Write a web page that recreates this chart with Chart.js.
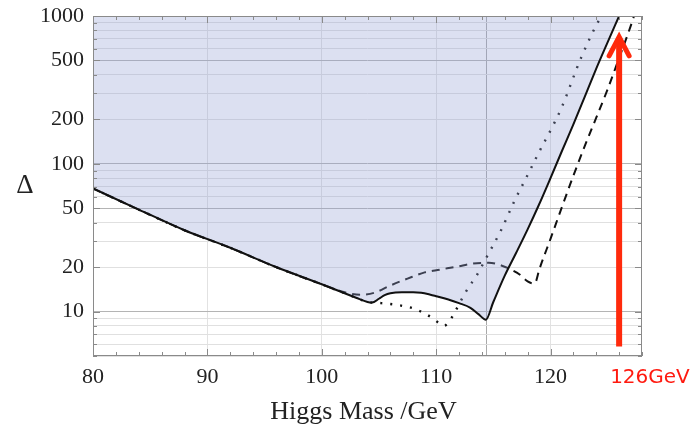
<!DOCTYPE html>
<html><head><meta charset="utf-8">
<script src="https://cdn.jsdelivr.net/npm/chart.js@4/dist/chart.umd.min.js"></script>
<style>html,body{margin:0;padding:0;background:#fff}</style>
</head><body>
<canvas id="c" width="693" height="428"></canvas>
<script>
// ---- data ----
const massSolid  = [80, 84, 88, 92, 96, 100, 102, 103, 104, 104.4, 105, 105.5, 106, 107, 108, 108.7, 109.5, 110, 111, 112, 113, 113.7, 114.35, 115, 116, 117, 118, 119, 120, 121, 122, 123, 124, 125, 126];
const deltaSolid = [68, 49, 35.5, 27, 20, 15.3, 13.3, 12.4, 11.6, 11.5, 12.2, 12.9, 13.3, 13.5, 13.5, 13.4, 13.0, 12.7, 12.1, 11.4, 10.6, 9.6, 8.8, 11.6, 17.5, 25, 36, 53, 80, 122, 185, 285, 440, 665, 1000];

const massDashed  = [80, 84, 88, 92, 96, 100, 102, 103.4, 104.6, 106, 107.5, 109, 110.3, 111.8, 113.2, 114.6, 115.7, 116.5, 117.3, 118, 118.5, 118.7, 119, 120, 121, 122, 123, 124, 125, 126, 127, 127.3];
const deltaDashed = [68, 49, 35.5, 27, 20, 15.3, 13.5, 13.0, 13.4, 15.0, 16.7, 18.4, 19.2, 20.1, 21.1, 21.4, 20.5, 19.3, 17.8, 16.0, 15.5, 15.8, 19, 31, 51, 83, 132, 205, 320, 520, 850, 1000];

const massDotted  = [80, 84, 88, 92, 96, 100, 102, 103, 104, 104.4, 105.2, 106.2, 107.1, 108, 108.9, 109.7, 110.3, 110.7, 111.1, 111.6, 112.5, 113, 113.5, 114.4, 115.7, 116.8, 118.1, 119, 120.2, 121, 122.7, 124.3, 124.5];
const deltaDotted = [68, 49, 35.5, 27, 20, 15.3, 13.3, 12.4, 11.6, 11.5, 11.4, 11.2, 10.9, 10.5, 9.8, 9.0, 8.3, 8.0, 8.5, 9.8, 13.2, 15.2, 17.3, 23.2, 35.8, 55, 87, 120, 180, 243, 527, 953, 1000];

const xTickValues = [80, 82, 84, 86, 88, 90, 92, 94, 96, 98, 100, 102, 104, 106, 108, 110, 112, 114, 116, 118, 120, 122, 124, 126, 128];
const xTickLabels = [80, 90, 100, 110, 120];
const lepBound = [114.4];
const yTickValues = [5, 6, 7, 8, 9, 10, 20, 30, 40, 50, 60, 70, 80, 90, 100, 200, 300, 400, 500, 600, 700, 800, 900, 1000];
const yTickLabels = [10, 20, 50, 100, 200, 500, 1000];
const yStrongGrid = [10, 50, 100, 500, 1000];

const arrowMass = [126];
const arrowRange = [5.8, 745];
const arrowText = '126GeV';
const xTitle = 'Higgs Mass /GeV';
const yTitle = 'Δ';

const toPts = (xs, ys) => xs.map((x, i) => ({x, y: ys[i]}));

const framePlugin = {
  id: 'frame',
  afterDatasetsDraw(chart) {
    const {ctx, chartArea: a, scales: {x, y}} = chart;
    ctx.save();
    ctx.strokeStyle = '#8a8a8a';
    ctx.lineWidth = 1;
    ctx.strokeRect(a.left + 0.5, a.top + 0.5, a.right - a.left - 1, a.bottom - a.top - 1);
    ctx.beginPath();
    xTickValues.forEach(v => {
      const px = Math.round(x.getPixelForValue(v)) + 0.5;
      const L = (v % 10 === 0) ? 7 : 4;
      ctx.moveTo(px, a.bottom); ctx.lineTo(px, a.bottom - L);
      ctx.moveTo(px, a.top); ctx.lineTo(px, a.top + L);
    });
    yTickValues.forEach(v => {
      const py = Math.round(y.getPixelForValue(v)) + 0.5;
      const L = yTickLabels.includes(v) ? 7 : 4;
      ctx.moveTo(a.left, py); ctx.lineTo(a.left + L, py);
      ctx.moveTo(a.right, py); ctx.lineTo(a.right - L, py);
    });
    ctx.stroke();
    ctx.restore();
  },
  afterDraw(chart) {
    const {ctx, chartArea: a, scales: {x, y}} = chart;
    ctx.save();
    // arrow
    const ax = x.getPixelForValue(arrowMass[0]);
    const yb = y.getPixelForValue(arrowRange[0]);
    const yt = y.getPixelForValue(arrowRange[1]);
    ctx.strokeStyle = '#ff2a0c';
    ctx.lineWidth = 6;
    ctx.lineCap = 'butt';
    ctx.beginPath();
    ctx.moveTo(ax, yb); ctx.lineTo(ax, yt + 4);
    ctx.stroke();
    ctx.lineWidth = 5;
    ctx.lineCap = 'round';
    ctx.lineJoin = 'miter';
    ctx.beginPath();
    ctx.moveTo(ax - 10, yt + 21); ctx.lineTo(ax, yt + 2); ctx.lineTo(ax + 10, yt + 21);
    ctx.stroke();
    // label
    ctx.fillStyle = '#ff1a10';
    ctx.font = '20px "DejaVu Sans"';
    ctx.textAlign = 'left';
    ctx.textBaseline = 'alphabetic';
    ctx.fillText(arrowText, ax - 9, a.bottom + 27);
    // axis titles
    ctx.fillStyle = '#222';
    ctx.font = '26px "Liberation Serif"';
    ctx.textAlign = 'center';
    ctx.fillText(xTitle, (a.left + a.right) / 2 - 4, a.bottom + 63);
    ctx.font = '27px "Liberation Serif"';
    ctx.fillText(yTitle, 25, 193);
    ctx.restore();
  }
};

new Chart(document.getElementById('c'), {
  type: 'line',
  data: {
    datasets: [
      {
        label: 'solid',
        data: toPts(massSolid, deltaSolid),
        borderColor: '#111',
        borderWidth: 2,
        backgroundColor: 'rgba(150,160,212,0.33)',
        fill: 'end',
        pointRadius: 0,
        cubicInterpolationMode: 'monotone',
        order: 1
      },
      {
        label: 'dashed',
        data: toPts(massDashed, deltaDashed),
        borderColor: '#111',
        borderWidth: 2,
        borderDash: [8, 6],
        fill: false,
        pointRadius: 0,
        cubicInterpolationMode: 'monotone',
        order: 2
      },
      {
        label: 'dotted',
        data: toPts(massDotted, deltaDotted),
        borderColor: '#111',
        borderWidth: 2.4,
        borderDash: [2, 8],
        fill: false,
        pointRadius: 0,
        cubicInterpolationMode: 'monotone',
        order: 3
      }
    ]
  },
  options: {
    responsive: false,
    animation: false,
    devicePixelRatio: 1,
    layout: {padding: {top: 16, right: 51, left: 0, bottom: 0}},
    plugins: {legend: {display: false}, tooltip: {enabled: false}},
    scales: {
      x: {
        type: 'linear', min: 80, max: 128,
        afterBuildTicks: s => { s.ticks = xTickValues.concat(lepBound).map(v => ({value: v})); },
        afterFit: s => { s.height = 72; s.paddingLeft = 0; s.paddingRight = 0; },
        border: {display: false},
        grid: {
          drawTicks: false,
          color: c => {
            const v = c.tick && c.tick.value;
            if (lepBound.includes(v)) return '#a9a9a9';
            if (v % 10 === 0 && v !== 80) return '#e2e2e2';
            return 'rgba(0,0,0,0)';
          },
          lineWidth: 1
        },
        ticks: {
          autoSkip: false, maxRotation: 0, padding: 8, color: '#222',
          font: {family: 'Liberation Serif', size: 22},
          callback: v => xTickLabels.includes(v) ? String(v) : ''
        }
      },
      y: {
        type: 'logarithmic', min: 5, max: 1000,
        afterBuildTicks: s => { s.ticks = yTickValues.map(v => ({value: v})); },
        afterFit: s => { s.width = 93; s.paddingTop = 0; s.paddingBottom = 0; },
        border: {display: false},
        grid: {
          drawTicks: false,
          color: c => {
            const v = c.tick && c.tick.value;
            return yStrongGrid.includes(v) ? '#b4b4b4' : '#e0e0e0';
          },
          lineWidth: 1
        },
        ticks: {
          autoSkip: false, padding: 9, color: '#222',
          font: {family: 'Liberation Serif', size: 22},
          callback: v => yTickLabels.includes(v) ? String(v) : ''
        }
      }
    }
  },
  plugins: [framePlugin]
});
</script>
</body></html>
